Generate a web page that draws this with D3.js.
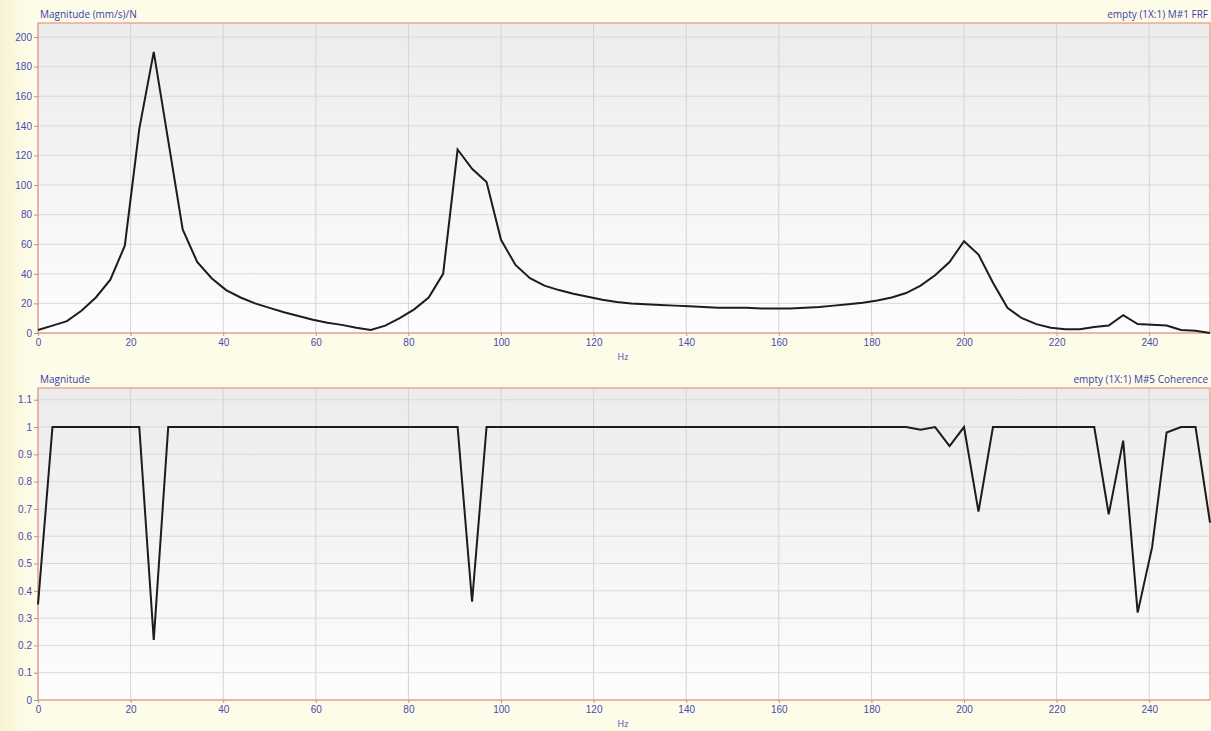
<!DOCTYPE html>
<html>
<head>
<meta charset="utf-8">
<script src="https://cdn.jsdelivr.net/npm/d3@7"></script>
<style>
  body { margin: 0; background: #fdfce8; }
  svg { display: block; font-family: "Open Sans", "Noto Sans", sans-serif; }
</style>
</head>
<body>
<div id="chart"></div>
<script>
var width = 1211;
var height = 731;

// spectral lines, 3.125 Hz resolution, 0 .. 253.125 Hz
var freqStep = 3.125;

// FRF magnitude (mm/s)/N
var frfValues = [
  2, 5, 8, 15, 24, 36, 59, 138, 190, 130,
  70, 48, 37, 29, 24, 20, 17, 14, 11.5, 9,
  7, 5.5, 3.5, 2, 5, 10, 16, 24, 40, 124,
  111, 102, 63, 46, 37, 32, 29, 26.5, 24.5, 22.5,
  21, 20, 19.5, 19, 18.5, 18, 17.5, 17, 17, 17,
  16.5, 16.5, 16.5, 17, 17.5, 18.5, 19.5, 20.5, 22, 24,
  27, 32, 39, 48, 62, 53, 34, 17, 10, 6,
  3.5, 2.5, 2.5, 4, 5, 12, 6, 5.5, 5, 2,
  1.5, 0
];

// coherence
var cohValues = [
  0.35, 1, 1, 1, 1, 1, 1, 1, 0.22, 1,
  1, 1, 1, 1, 1, 1, 1, 1, 1, 1,
  1, 1, 1, 1, 1, 1, 1, 1, 1, 1,
  0.36, 1, 1, 1, 1, 1, 1, 1, 1, 1,
  1, 1, 1, 1, 1, 1, 1, 1, 1, 1,
  1, 1, 1, 1, 1, 1, 1, 1, 1, 1,
  1, 0.99, 1, 0.93, 1, 0.69, 1, 1, 1, 1,
  1, 1, 1, 1, 0.68, 0.95, 0.32, 0.56, 0.98, 1,
  1, 0.65
];

var xTicks = [0, 20, 40, 60, 80, 100, 120, 140, 160, 180, 200, 220, 240];
var frfTicks = [0, 20, 40, 60, 80, 100, 120, 140, 160, 180, 200];
var cohTicks = [0, 0.1, 0.2, 0.3, 0.4, 0.5, 0.6, 0.7, 0.8, 0.9, 1, 1.1];

var freqs = frfValues.map(function(d, i) { return i * freqStep; });

var svg = d3.select('#chart').append('svg')
  .attr('width', width)
  .attr('height', height);

var defs = svg.append('defs');
var grad = defs.append('linearGradient')
  .attr('id', 'plotbg')
  .attr('x1', 0).attr('y1', 0).attr('x2', 0).attr('y2', 1);
grad.append('stop').attr('offset', '0%').attr('stop-color', '#ececec');
grad.append('stop').attr('offset', '100%').attr('stop-color', '#fdfdfd');

var lgrad = defs.append('linearGradient')
  .attr('id', 'leftbg')
  .attr('x1', 0).attr('y1', 0).attr('x2', 1).attr('y2', 0);
lgrad.append('stop').attr('offset', '0%').attr('stop-color', '#f7f3d4');
lgrad.append('stop').attr('offset', '100%').attr('stop-color', '#fdfce8');

svg.append('rect')
  .attr('x', 0).attr('y', 0)
  .attr('width', 30).attr('height', height)
  .attr('fill', 'url(#leftbg)');

var x = d3.scaleLinear()
  .domain([0, 253.125])
  .range([38, 1210]);

function drawPanel(opts) {
  var g = svg.append('g');
  var y = d3.scaleLinear().domain(opts.domain).range([opts.bottom, opts.top]);

  g.append('rect')
    .attr('x', x.range()[0]).attr('y', opts.top)
    .attr('width', x.range()[1] - x.range()[0])
    .attr('height', opts.bottom - opts.top)
    .attr('fill', 'url(#plotbg)');

  // grid
  g.selectAll('.hgrid')
    .data(opts.yTicks)
    .enter().append('line')
    .attr('x1', x.range()[0]).attr('x2', x.range()[1])
    .attr('y1', function(d) { return y(d); })
    .attr('y2', function(d) { return y(d); })
    .attr('stroke', '#dadada')
    .attr('stroke-width', 1);

  g.selectAll('.vgrid')
    .data(xTicks)
    .enter().append('line')
    .attr('x1', function(d) { return x(d); })
    .attr('x2', function(d) { return x(d); })
    .attr('y1', opts.top).attr('y2', opts.bottom)
    .attr('stroke', '#d4d4d4')
    .attr('stroke-width', 1);

  // borders
  g.append('rect')
    .attr('x', x.range()[0]).attr('y', opts.top)
    .attr('width', x.range()[1] - x.range()[0])
    .attr('height', opts.bottom - opts.top)
    .attr('fill', 'none')
    .attr('stroke', '#e3826f')
    .attr('stroke-width', 1);

  // y axis ticks and labels
  var yAxis = d3.axisLeft(y)
    .tickValues(opts.yTicks)
    .tickSize(4)
    .tickPadding(2)
    .tickFormat(opts.fmt);
  var ya = g.append('g')
    .attr('transform', 'translate(' + x.range()[0] + ',0)')
    .call(yAxis);
  ya.select('.domain').remove();
  ya.selectAll('line').attr('stroke', '#9a9ab0');
  ya.selectAll('text').attr('fill', '#4a4ab0').style('font-size', '10px');

  // x axis
  var xAxis = d3.axisBottom(x)
    .tickValues(xTicks)
    .tickSize(3)
    .tickPadding(3);
  var xa = g.append('g')
    .attr('transform', 'translate(0,' + opts.bottom + ')')
    .call(xAxis);
  xa.select('.domain').remove();
  xa.selectAll('line').attr('stroke', '#9a9ab0');
  xa.selectAll('text').attr('fill', '#4a4ab0').style('font-size', '10px');

  g.append('text')
    .attr('x', (x.range()[0] + x.range()[1]) / 2 - 1)
    .attr('y', opts.bottom + 27)
    .attr('text-anchor', 'middle')
    .attr('fill', '#4a4ab0')
    .style('font-size', '9px')
    .text('Hz');

  // titles
  g.append('text')
    .attr('x', 40).attr('y', opts.top - 5)
    .attr('fill', '#3c3ca8')
    .style('font-size', '10px')
    .text(opts.title);
  g.append('text')
    .attr('x', 1208).attr('y', opts.top - 5)
    .attr('text-anchor', 'end')
    .attr('fill', '#3c3ca8')
    .style('font-size', '10px')
    .text(opts.label);

  // data line
  var line = d3.line()
    .x(function(d, i) { return x(freqs[i]); })
    .y(function(d) { return y(d); });

  g.append('path')
    .datum(opts.values)
    .attr('d', line)
    .attr('fill', 'none')
    .attr('stroke', '#1c1c1c')
    .attr('stroke-width', 2)
    .attr('stroke-linejoin', 'miter');
}

drawPanel({
  top: 23, bottom: 333,
  domain: [0, 209.5],
  yTicks: frfTicks,
  fmt: d3.format('d'),
  values: frfValues,
  title: 'Magnitude (mm/s)/N',
  label: 'empty (1X:1) M#1 FRF'
});

drawPanel({
  top: 388, bottom: 700,
  domain: [0, 1.143],
  yTicks: cohTicks,
  fmt: function(d) { return String(+d.toFixed(2)); },
  values: cohValues,
  title: 'Magnitude',
  label: 'empty (1X:1) M#5 Coherence'
});
</script>
</body>
</html>
